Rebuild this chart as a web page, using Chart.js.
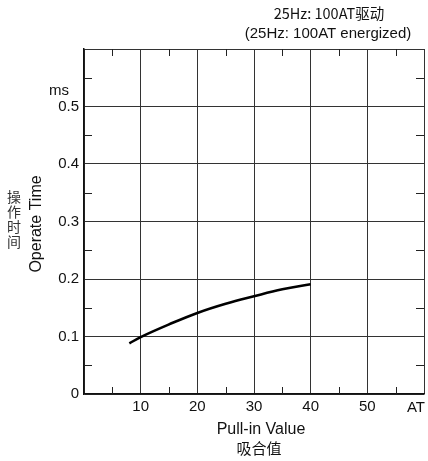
<!DOCTYPE html>
<html>
<head>
<meta charset="utf-8">
<script src="https://cdn.jsdelivr.net/npm/chart.js@4.4.0/dist/chart.umd.min.js"></script>
<style>
  html, body { margin: 0; padding: 0; background: #fff; }
  canvas { display: block; }
</style>
</head>
<body>
<canvas id="operateChart" width="428" height="461"></canvas>
<script>
// pull-in value (AT) vs operate time (ms)
const pullIn = [8, 10, 15, 20, 25, 30, 35, 40];
const operateTime = [0.088, 0.099, 0.121, 0.141, 0.157, 0.170, 0.182, 0.191];
const xTicks = [10, 20, 30, 40, 50];
const yTicks = [0, 0.1, 0.2, 0.3, 0.4, 0.5];
const xMinor = [5, 15, 25, 35, 45, 55];
const yMinor = [0.05, 0.15, 0.25, 0.35, 0.45, 0.55];

const FONT = '"Liberation Sans", Arial, sans-serif';
const CJK = '"Noto Sans CJK SC", sans-serif';

// short inside ticks between the grid lines, on all four sides
const minorTicks = {
    id: 'minorTicks',
    afterDraw(chart) {
        const { ctx, chartArea: a, scales: { x, y } } = chart;
        ctx.save();
        ctx.strokeStyle = '#222';
        ctx.lineWidth = 1;
        ctx.beginPath();
        xMinor.forEach(v => {
            const px = Math.round(x.getPixelForValue(v)) + 0.5;
            ctx.moveTo(px, a.top); ctx.lineTo(px, a.top + 7);
            ctx.moveTo(px, a.bottom); ctx.lineTo(px, a.bottom - 7);
        });
        yMinor.forEach(v => {
            const py = Math.round(y.getPixelForValue(v)) + 0.5;
            ctx.moveTo(a.left, py); ctx.lineTo(a.left + 8, py);
            ctx.moveTo(a.right, py); ctx.lineTo(a.right - 8, py);
        });
        ctx.stroke();
        ctx.restore();
    }
};

// titles, units and axis names
const labels = {
    id: 'labels',
    afterDraw(chart) {
        const { ctx } = chart;
        ctx.save();
        ctx.fillStyle = '#111';
        ctx.textAlign = 'center';
        ctx.textBaseline = 'middle';

        ctx.font = '14.5px ' + CJK;
        ctx.fillText('25Hz: 100AT驱动', 329, 13);
        ctx.font = '15px ' + FONT;
        ctx.fillText('(25Hz: 100AT energized)', 328, 34);

        ctx.font = '15px ' + FONT;
        ctx.fillText('ms', 59, 91);
        ctx.fillText('AT', 416, 408);
        ctx.font = '16px ' + FONT;
        ctx.fillText('Pull-in Value', 261, 430);
        ctx.font = '15px ' + CJK;
        ctx.fillText('吸合值', 259, 448);

        ctx.font = '16px ' + FONT;
        ctx.translate(37, 224);
        ctx.rotate(-Math.PI / 2);
        ctx.fillText('Operate Time', 0, 0);
        ctx.setTransform(1, 0, 0, 1, 0, 0);

        ctx.fillStyle = '#333';
        ctx.font = '14px ' + CJK;
        ['操', '作', '时', '间'].forEach((c, i) => ctx.fillText(c, 14, 197 + i * 15));
        ctx.restore();
    }
};

new Chart(document.getElementById('operateChart'), {
    type: 'scatter',
    data: {
        datasets: [{
            data: pullIn.map((v, i) => ({ x: v, y: operateTime[i] })),
            showLine: true,
            borderColor: '#000',
            borderWidth: 2.6,
            pointRadius: 0,
            tension: 0.4
        }]
    },
    options: {
        responsive: false,
        animation: false,
        devicePixelRatio: 1,
        layout: { padding: { top: 49, right: 0, left: 0, bottom: 0 } },
        plugins: { legend: { display: false }, tooltip: { enabled: false } },
        scales: {
            x: {
                type: 'linear',
                min: 0,
                max: 60,
                afterFit: s => { s.height = 67; },
                afterBuildTicks: s => { s.ticks = [0, ...xTicks, 60].map(v => ({ value: v })); },
                ticks: {
                    autoSkip: false,
                    maxRotation: 0,
                    padding: 4,
                    color: '#111',
                    font: { family: FONT, size: 15 },
                    callback: v => xTicks.includes(v) ? String(v) : ''
                },
                grid: { color: '#333', lineWidth: 1, drawTicks: false },
                border: { color: '#111', width: 1.5 }
            },
            y: {
                min: 0,
                max: 0.6,
                afterFit: s => { s.width = 84; },
                afterBuildTicks: s => { s.ticks = [...yTicks, 0.6].map(v => ({ value: v })); },
                ticks: {
                    autoSkip: false,
                    padding: 5,
                    color: '#111',
                    font: { family: FONT, size: 15 },
                    callback: v => v > 0.55 ? '' : (v === 0 ? '0' : v.toFixed(1))
                },
                grid: { color: '#333', lineWidth: 1, drawTicks: false },
                border: { color: '#111', width: 1.5 }
            }
        }
    },
    plugins: [minorTicks, labels]
});
</script>
</body>
</html>
